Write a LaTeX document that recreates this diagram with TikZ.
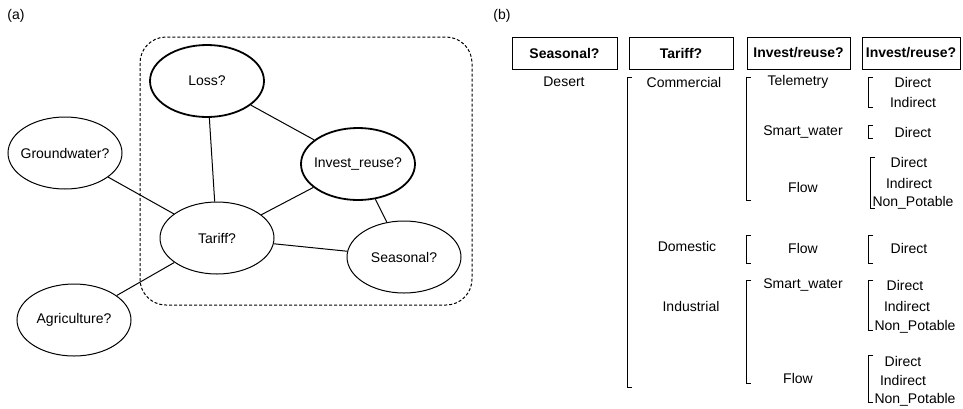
\documentclass[tikz,border=0pt]{standalone}
\usepackage{fontspec}
\setmainfont{Liberation Sans}
\usepackage{tikz}
\usetikzlibrary{shapes.geometric}
\tikzset{
    var/.style={shape=ellipse, draw=black, minimum width=114pt, minimum height=72pt, inner ysep=0pt, inner xsep=-25pt, line width=1pt},
    keyvar/.style={var, line width=1.8pt},
    head/.style={draw=black, line width=1pt, minimum height=32pt, inner sep=0pt, font=\fontsize{14}{16}\selectfont\bfseries},
    lab/.style={inner sep=0pt}}
\newcommand{\bkt}[3]{\draw[line width=1pt] (#1+5,#2) -- (#1,#2) -- (#1,#3) -- (#1+5,#3);}

\begin{document}
\begin{tikzpicture}[x=1pt, y=-1pt, font=\fontsize{14}{16}\selectfont]

            \useasboundingbox (0,0) rectangle (963,408);

            % (a) network
            \node[lab] (pa) at (16,16) {(a)};
            \draw[line width=1pt, dash pattern=on 3pt off 2pt, rounded corners=26pt] (140,37) rectangle (472,305);

            \node[keyvar] (loss) at (207,81) {Loss?};
            \node[var] (ground) at (65,153) {Groundwater?};
            \node[keyvar] (invest) at (358,164) {Invest\_reuse?};
            \node[var] (tariff) at (217,238) {Tariff?};
            \node[var] (seasonal) at (404,257) {Seasonal?};
            \node[var] (agri) at (74,320) {Agriculture?};

            \draw[line width=1pt] (loss) -- (tariff);
            \draw[line width=1pt] (loss) -- (invest);
            \draw[line width=1pt] (ground) -- (tariff);
            \draw[line width=1pt] (agri) -- (tariff);
            \draw[line width=1pt] (invest) -- (tariff);
            \draw[line width=1pt] (invest) -- (seasonal);
            \draw[line width=1pt] (tariff) -- (seasonal);

            % (b) states
            \node[lab] (pb) at (502,16) {(b)};
            \node[head, minimum width=105pt] (hseas) at (564.5,53) {Seasonal?};
            \node[head, minimum width=104pt] (htar) at (681,53) {Tariff?};
            \node[head, minimum width=103pt] (hinv) at (798.5,53) {Invest/reuse?};
            \node[head, minimum width=98pt] (hinvb) at (911,53) {Invest/reuse?};

            \node[lab] (desert) at (564,82) {Desert};
            \node[lab] (comm) at (684,82) {Commercial};
            \node[lab] (dom) at (687,246) {Domestic};
            \node[lab] (ind) at (691,306) {Industrial};

            \node[lab] (tele) at (798,82) {Telemetry};
            \node[lab] (smartc) at (803,132) {Smart\_water};
            \node[lab] (flowc) at (803,187) {Flow};
            \node[lab] (flowd) at (803,248) {Flow};
            \node[lab] (smarti) at (803,285) {Smart\_water};
            \node[lab] (flowi) at (798,378) {Flow};

            \node[lab] (d1) at (913,82) {Direct};
            \node[lab] (i1) at (913,102) {Indirect};
            \node[lab] (d2) at (913,132) {Direct};
            \node[lab] (d3) at (909,162) {Direct};
            \node[lab] (i3) at (909,183) {Indirect};
            \node[lab] (n3) at (913,203) {Non\_Potable};
            \node[lab] (d4) at (909,248) {Direct};
            \node[lab] (d5) at (905,285) {Direct};
            \node[lab] (i5) at (907,306) {Indirect};
            \node[lab] (n5) at (915,327) {Non\_Potable};
            \node[lab] (d6) at (903,361) {Direct};
            \node[lab] (i6) at (903,380) {Indirect};
            \node[lab] (n6) at (915,400) {Non\_Potable};

            \bkt{627}{77}{387}
            \bkt{746}{77}{200}
            \bkt{746}{235}{263}
            \bkt{746}{280}{383}
            \bkt{868}{77}{107}
            \bkt{868}{125}{138}
            \bkt{870}{157}{208}
            \bkt{868}{235}{263}
            \bkt{868}{280}{330}
            \bkt{868}{355}{402}

        \end{tikzpicture}
\end{document}
